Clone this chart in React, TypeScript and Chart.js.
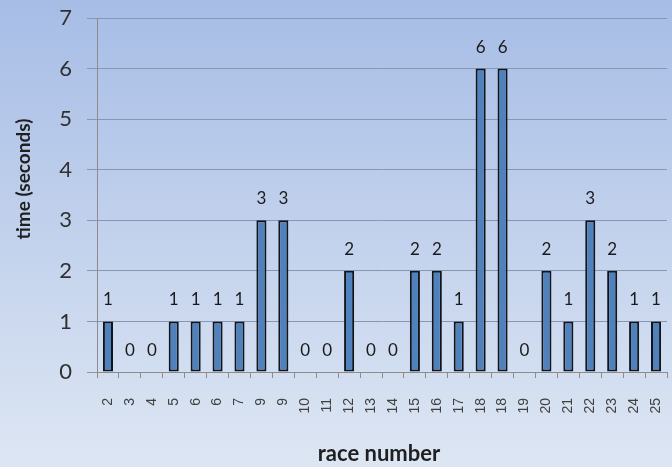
import React, { useEffect, useRef } from "react";
import { Chart, registerables } from "chart.js";

Chart.register(...registerables);

const categories = ["2", "3", "4", "5", "6", "6", "7", "9", "9", "10", "11", "12", "13", "14", "15", "16", "17", "18", "18", "19", "20", "21", "22", "23", "24", "25"];
const times = [1, 0, 0, 1, 1, 1, 1, 3, 3, 0, 0, 2, 0, 0, 2, 2, 1, 6, 6, 0, 2, 1, 3, 2, 1, 1];
const yTitle = "time (seconds)";
const xTitle = "race number";

const bgPlugin = {
  id: "bgGradient",
  beforeDraw(chart: any) {
    const { ctx, width, height } = chart;
    const g = ctx.createLinearGradient(0, 0, 0, height);
    g.addColorStop(0, "#a7bde6");
    g.addColorStop(1, "#dde6f3");
    ctx.save();
    ctx.fillStyle = g;
    ctx.fillRect(0, 0, width, height);
    ctx.restore();
  },
};

const labelPlugin = {
  id: "valueLabels",
  afterDatasetsDraw(chart: any) {
    const { ctx } = chart;
    const meta = chart.getDatasetMeta(0);
    ctx.save();
    ctx.font = "17px Lato";
    ctx.fillStyle = "#1a1a1a";
    ctx.textAlign = "center";
    ctx.textBaseline = "alphabetic";
    meta.data.forEach((el: any, i: number) => {
      ctx.fillText(String(times[i]), el.x, el.y - 16);
    });
    ctx.restore();
  },
};

const titlePlugin = {
  id: "axisTitles",
  afterDraw(chart: any) {
    const { ctx, chartArea } = chart;
    ctx.save();
    ctx.fillStyle = "#1f1f1f";
    ctx.textAlign = "center";
    ctx.textBaseline = "middle";
    ctx.font = "bold 22px Lato";
    ctx.fillText(xTitle, (chartArea.left + chartArea.right) / 2 - 3, 454);
    ctx.font = "bold 19px Lato";
    ctx.translate(24, 179);
    ctx.rotate(-Math.PI / 2);
    ctx.fillText(yTitle, 0, 0);
    ctx.restore();
  },
};

export default function App() {
  const ref = useRef<HTMLCanvasElement>(null);
  useEffect(() => {
    if (!ref.current) return;
    const chart = new Chart(ref.current, {
      type: "bar",
      data: {
        labels: categories,
        datasets: [
          {
            data: times,
            backgroundColor: "#4f81bd",
            borderColor: "#111418",
            borderWidth: 2,
            borderSkipped: false,
            barPercentage: 0.46,
            categoryPercentage: 1,
          },
        ],
      },
      options: {
        responsive: false,
        animation: false,
        devicePixelRatio: 1,
        layout: { padding: { top: 18, right: 5, left: 0, bottom: 0 } },
        plugins: { legend: { display: false }, tooltip: { enabled: false } },
        scales: {
          x: {
            offset: true,
            grid: { offset: true, drawOnChartArea: false, drawTicks: true, tickLength: 6, color: "#8c8c8c" },
            border: { color: "#8c8c8c" },
            ticks: {
              autoSkip: false,
              minRotation: 90,
              maxRotation: 90,
              padding: 20,
              color: "#404040",
              font: { family: "Liberation Sans", size: 14 },
            },
            afterFit: (s: any) => {
              s.height = 95;
              s.paddingLeft = 0;
              s.paddingRight = 0;
            },
          },
          y: {
            min: 0,
            max: 7,
            grid: { color: "#8797b3", tickLength: 10 },
            border: { color: "#8c8c8c" },
            ticks: {
              stepSize: 1,
              padding: 15,
              color: "#303030",
              font: { family: "Lato", size: 22 },
            },
            afterFit: (s: any) => {
              s.width = 97;
              s.paddingTop = 0;
              s.paddingBottom = 0;
            },
          },
        },
      },
      plugins: [bgPlugin, labelPlugin, titlePlugin],
    });
    return () => chart.destroy();
  }, []);
  return (
    <div style={{ position: "absolute", left: 0, top: 0 }}>
      <canvas ref={ref} width={672} height={467} style={{ display: "block" }} />
    </div>
  );
}
